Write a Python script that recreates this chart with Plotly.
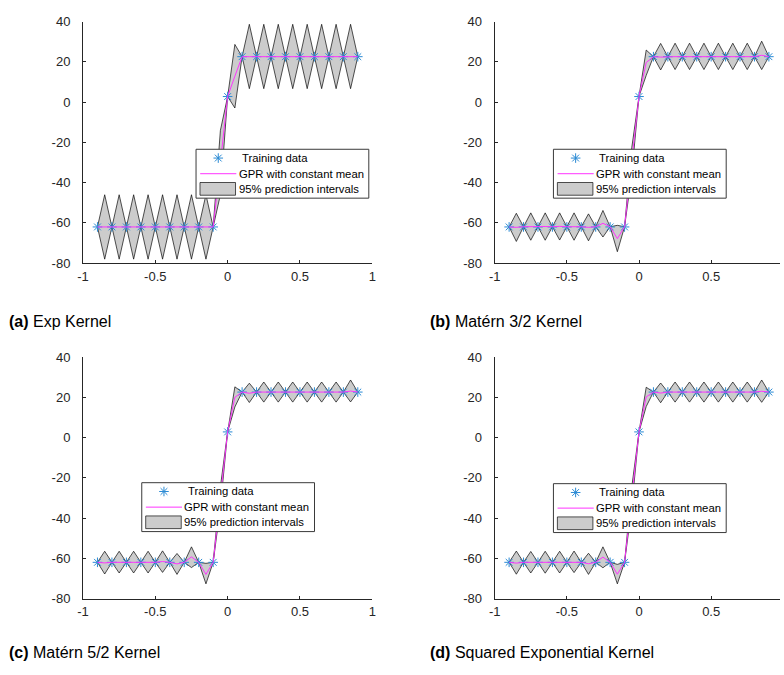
import plotly.graph_objects as go

# ---------------- data ----------------
x_grid = [-0.9, -0.85, -0.8, -0.75, -0.7, -0.65, -0.6, -0.55, -0.5, -0.45, -0.4, -0.35,
          -0.3, -0.25, -0.2, -0.15, -0.1, -0.05, 0.0, 0.05, 0.1, 0.15, 0.2, 0.25, 0.3,
          0.35, 0.4, 0.45, 0.5, 0.55, 0.6, 0.65, 0.7, 0.75, 0.8, 0.85, 0.9]

x_train = [-0.9, -0.8, -0.7, -0.6, -0.5, -0.4, -0.3, -0.2, -0.1, 0.0,
           0.1, 0.2, 0.3, 0.4, 0.5, 0.6, 0.7, 0.8, 0.9]
y_train = [-62.0, -62.0, -62.0, -62.0, -62.0, -62.0, -62.0, -62.0, -62.0, 2.8,
           22.6, 22.6, 22.6, 22.6, 22.6, 22.6, 22.6, 22.6, 22.6]

# (a) Exp kernel
a_mean = [-62.0, -62.0, -62.0, -62.0, -62.0, -62.0, -62.0, -62.0, -62.0, -62.0, -62.0, -62.0,
          -62.0, -62.0, -62.0, -62.0, -62.0, -30.0, 2.8, 12.9, 22.6, 22.6, 22.6, 22.6, 22.6,
          22.6, 22.6, 22.6, 22.6, 22.6, 22.6, 22.6, 22.6, 22.6, 22.6, 22.6, 22.6]
a_upper = [-62.0, -46.0, -62.0, -46.0, -62.0, -46.0, -62.0, -46.0, -62.0, -46.0, -62.0, -46.0,
           -62.0, -46.0, -62.0, -46.0, -62.0, -14.0, 2.8, 28.7, 22.6, 38.7, 22.6, 38.7, 22.6,
           38.7, 22.6, 38.7, 22.6, 38.7, 22.6, 38.7, 22.6, 38.7, 22.6, 38.7, 22.6]
a_lower = [-62.0, -78.0, -62.0, -78.0, -62.0, -78.0, -62.0, -78.0, -62.0, -78.0, -62.0, -78.0,
           -62.0, -78.0, -62.0, -78.0, -62.0, -46.0, 2.8, -2.9, 22.6, 6.7, 22.6, 6.7, 22.6,
           6.7, 22.6, 6.7, 22.6, 6.7, 22.6, 6.7, 22.6, 6.7, 22.6, 6.7, 22.6]

# (b) Matern 3/2 kernel
b_mean = [-62.0, -62.2, -61.9, -61.8, -61.9, -61.8, -61.9, -61.7, -61.9, -61.8, -61.9, -62.2,
          -61.9, -60.2, -61.9, -67.8, -61.9, -29.0, 2.9, 19.7, 22.6, 22.4, 22.6, 22.6, 22.6,
          22.6, 22.6, 22.6, 22.6, 22.6, 22.6, 22.6, 22.6, 22.6, 22.6, 23.3, 22.6]
b_upper = [-62.0, -55.2, -61.9, -55.0, -61.9, -55.0, -61.9, -55.0, -61.9, -55.0, -61.9, -55.5,
           -61.9, -53.8, -61.9, -61.2, -61.9, -22.5, 2.9, 25.9, 22.6, 29.2, 22.6, 29.3, 22.6,
           29.3, 22.6, 29.3, 22.6, 29.3, 22.6, 29.3, 22.6, 29.3, 22.6, 30.3, 22.6]
b_lower = [-62.0, -69.2, -61.9, -68.6, -61.9, -68.6, -61.9, -68.5, -61.9, -68.6, -61.9, -68.9,
           -61.9, -67.0, -61.9, -74.3, -61.9, -35.5, 2.9, 13.3, 22.6, 16.0, 22.6, 16.2, 22.6,
           16.2, 22.6, 16.2, 22.6, 16.2, 22.6, 16.2, 22.6, 16.2, 22.6, 16.2, 22.6]

# (c) Matern 5/2 kernel
c_mean = [-62.0, -62.3, -62.0, -61.9, -62.0, -62.0, -62.0, -62.0, -62.0, -61.6, -62.0, -62.8,
          -62.0, -59.3, -62.0, -68.0, -62.0, -29.5, 2.8, 20.0, 22.6, 22.0, 22.6, 22.6, 22.6,
          22.6, 22.6, 22.6, 22.6, 22.6, 22.6, 22.6, 22.6, 22.6, 22.6, 23.1, 22.6]
c_upper = [-62.0, -56.5, -62.0, -56.5, -62.0, -56.5, -62.0, -56.5, -62.0, -56.3, -62.0, -57.6,
           -62.0, -54.3, -62.0, -62.5, -62.0, -24.5, 2.8, 25.2, 22.6, 27.0, 22.6, 27.6, 22.6,
           27.6, 22.6, 27.6, 22.6, 27.6, 22.6, 27.6, 22.6, 27.6, 22.6, 28.6, 22.6]
c_lower = [-62.0, -67.8, -62.0, -67.3, -62.0, -67.3, -62.0, -67.3, -62.0, -67.0, -62.0, -68.0,
           -62.0, -64.6, -62.0, -72.7, -62.0, -34.5, 2.8, 15.2, 22.6, 17.4, 22.6, 17.6, 22.6,
           17.6, 22.6, 17.6, 22.6, 17.6, 22.6, 17.6, 22.6, 17.6, 22.6, 17.7, 22.6]

# (d) Squared exponential kernel
d_mean = [-62.0, -62.4, -62.0, -61.9, -62.0, -62.0, -62.0, -62.0, -62.0, -61.7, -62.0, -62.7,
          -62.0, -59.4, -62.0, -67.9, -62.0, -29.5, 2.8, 20.2, 22.6, 22.1, 22.6, 22.6, 22.6,
          22.6, 22.6, 22.6, 22.6, 22.6, 22.6, 22.6, 22.6, 22.6, 22.6, 23.0, 22.6]
d_upper = [-62.0, -56.4, -62.0, -56.6, -62.0, -56.5, -62.0, -56.5, -62.0, -56.4, -62.0, -57.5,
           -62.0, -54.3, -62.0, -63.0, -62.0, -24.5, 2.8, 25.0, 22.6, 27.1, 22.6, 27.6, 22.6,
           27.6, 22.6, 27.6, 22.6, 27.6, 22.6, 27.6, 22.6, 27.6, 22.6, 28.6, 22.6]
d_lower = [-62.0, -67.9, -62.0, -67.3, -62.0, -67.4, -62.0, -67.3, -62.0, -67.1, -62.0, -68.0,
           -62.0, -64.7, -62.0, -72.7, -62.0, -34.5, 2.8, 15.4, 22.6, 17.3, 22.6, 17.6, 22.6,
           17.6, 22.6, 17.6, 22.6, 17.6, 22.6, 17.6, 22.6, 17.6, 22.6, 17.5, 22.6]

captions = ["<b>(a)</b> Exp Kernel", "<b>(b)</b> Matérn 3/2 Kernel",
            "<b>(c)</b> Matérn 5/2 Kernel", "<b>(d)</b> Squared Exponential Kernel"]

x_tickvals = [-1, -0.5, 0, 0.5, 1]
x_ticktext = ["-1", "-0.5", "0", "0.5", "1"]
y_tickvals = [-80, -60, -40, -20, 0, 20, 40]
y_ticktext = ["-80", "-60", "-40", "-20", "0", "20", "40"]

legend_names = ["Training data", "GPR with constant mean", "95% prediction intervals"]

# ---------------- styling / layout ----------------
W, H = 784, 675
FONT = "Liberation Sans, Arial, Helvetica, sans-serif"
AXC = "#262626"
STAR_C = "#2A8AD4"
MEAN_C = "#FF33FF"
BAND_FILL = "#CCCCCC"
BAND_EDGE = "rgba(0,0,0,0.85)"

panels = [
    dict(mean=a_mean, up=a_upper, lo=a_lower, xpix=(78, 371), ypix=(15, 262), xr=[-1, 1],
         leg=(192, 145), cap=(1, 322)),
    dict(mean=b_mean, up=b_upper, lo=b_lower, xpix=(495, 784), ypix=(15, 262), xr=[-1, 0.977],
         leg=(554, 145), cap=(427, 322)),
    dict(mean=c_mean, up=c_upper, lo=c_lower, xpix=(78, 371), ypix=(358, 605), xr=[-1, 1],
         leg=(137, 486), cap=(1, 660)),
    dict(mean=d_mean, up=d_upper, lo=d_lower, xpix=(495, 784), ypix=(358, 605), xr=[-1, 0.977],
         leg=(554, 487), cap=(427, 660)),
]
LEG_W, LEG_H = 175, 50.5
ROWS = [9.5, 25.5, 41.0]

fig = go.Figure()
layout = dict(width=W, height=H, autosize=False, margin=dict(l=0, r=0, t=0, b=0),
              plot_bgcolor="rgba(0,0,0,0)", paper_bgcolor="white", font=dict(family=FONT),
              showlegend=False, annotations=[], shapes=[])

# overlay pixel-space axes used only for drawing the legend boxes
layout["xaxis5"] = dict(domain=[0, 1], range=[0, W], visible=False, fixedrange=True, anchor="y5")
layout["yaxis5"] = dict(domain=[0, 1], range=[H, 0], visible=False, fixedrange=True, anchor="x5")

star_x, star_y = [], []
seg_x, seg_y = [], []
patch_x, patch_y = [], []
for k, p in enumerate(panels):
    n = "" if k == 0 else str(k + 1)
    xa, ya = "x" + n, "y" + n
    band_x = x_grid + x_grid[::-1]
    band_y = p["up"] + p["lo"][::-1]
    fig.add_trace(go.Scatter(x=band_x, y=band_y, fill="toself", fillcolor=BAND_FILL,
                             line=dict(color=BAND_EDGE, width=0.8), mode="lines",
                             name=legend_names[2], xaxis=xa, yaxis=ya, hoverinfo="skip"))
    fig.add_trace(go.Scatter(x=x_train, y=y_train, mode="markers",
                             marker=dict(symbol="asterisk-open", size=8, color=STAR_C,
                                         line=dict(color=STAR_C, width=1)),
                             name=legend_names[0], xaxis=xa, yaxis=ya))
    fig.add_trace(go.Scatter(x=x_grid, y=p["mean"], mode="lines",
                             line=dict(color=MEAN_C, width=1),
                             name=legend_names[1], xaxis=xa, yaxis=ya))
    axcommon = dict(showline=True, linecolor=AXC, linewidth=1, ticks="inside", ticklen=3,
                    tickcolor=AXC, tickwidth=1, showgrid=False, zeroline=False,
                    tickfont=dict(family=FONT, size=13, color=AXC), fixedrange=True)
    layout["xaxis" + n] = dict(domain=[p["xpix"][0] / W, p["xpix"][1] / W], range=p["xr"],
                               anchor=ya, tickvals=x_tickvals, ticktext=x_ticktext,
                               ticklabelstandoff=1, **axcommon)
    layout["yaxis" + n] = dict(domain=[1 - p["ypix"][1] / H, 1 - p["ypix"][0] / H],
                               range=[-80, 40], anchor=xa, tickvals=y_tickvals,
                               ticktext=y_ticktext, ticklabelstandoff=9, **axcommon)

    # ---- legend box (manual, MATLAB style) ----
    lx, ly = p["leg"]
    layout["shapes"].append(dict(type="rect", xref="x5", yref="y5", layer="below",
                                 x0=lx + 0.5, x1=lx + LEG_W + 0.5, y0=ly + 0.5, y1=ly + LEG_H,
                                 fillcolor="white", line=dict(color="#3A3A3A", width=1)))
    star_x.append(lx + 23)
    star_y.append(ly + ROWS[0])
    seg_x += [lx + 4.7, lx + 41.3, None]
    seg_y += [ly + ROWS[1], ly + ROWS[1], None]
    patch_x += [lx + 4.5, lx + 40.5, lx + 40.5, lx + 4.5, lx + 4.5, None]
    patch_y += [ly + ROWS[2] - 6.5, ly + ROWS[2] - 6.5, ly + ROWS[2] + 6.5,
                ly + ROWS[2] + 6.5, ly + ROWS[2] - 6.5, None]
    text_x = [lx + 45.0, lx + 41.5, lx + 41.5]
    for r in range(3):
        layout["annotations"].append(dict(text=legend_names[r], x=text_x[r] / W,
                                          y=1 - (ly + ROWS[r]) / H, xref="paper", yref="paper",
                                          xanchor="left", yanchor="middle", showarrow=False,
                                          font=dict(family=FONT, size=11.3, color="black")))

    layout["annotations"].append(dict(text=captions[k], x=p["cap"][0] / W,
                                      y=1 - p["cap"][1] / H, xref="paper", yref="paper",
                                      xanchor="left", yanchor="middle", showarrow=False,
                                      font=dict(family=FONT, size=16, color="black")))

# legend glyphs (drawn in the pixel-space overlay)
fig.add_trace(go.Scatter(x=patch_x, y=patch_y, mode="lines", fill="toself",
                         fillcolor=BAND_FILL, line=dict(color=BAND_EDGE, width=0.8),
                         xaxis="x5", yaxis="y5", hoverinfo="skip", name="legend patch"))
fig.add_trace(go.Scatter(x=seg_x, y=seg_y, mode="lines", line=dict(color=MEAN_C, width=1),
                         xaxis="x5", yaxis="y5", hoverinfo="skip", name="legend line"))
fig.add_trace(go.Scatter(x=star_x, y=star_y, mode="markers", xaxis="x5", yaxis="y5",
                         marker=dict(symbol="asterisk-open", size=8, color=STAR_C,
                                     line=dict(color=STAR_C, width=1)),
                         hoverinfo="skip", name="legend glyph"))

fig.update_layout(**layout)
fig.write_html("out.html")
